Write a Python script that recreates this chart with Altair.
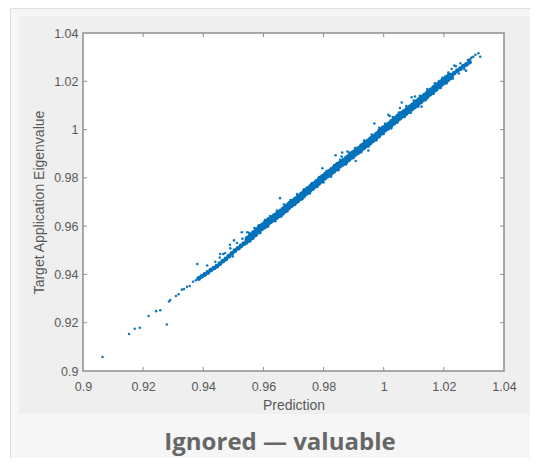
import altair as alt
import pandas as pd

axis_ticks = [0.9, 0.92, 0.94, 0.96, 0.98, 1.0, 1.02, 1.04]

core_pred = [0.955,0.956,0.957,0.958,0.959,0.960,0.961,0.962,0.963,0.964,0.965,0.966,0.967,0.968,0.969,0.970,0.971,0.972,0.973,0.974,0.975,0.976,0.977,0.978,0.979,0.980,0.981,0.982,0.983,0.984,0.985,0.986,0.987,0.988,0.989,0.990,0.991,0.992,0.993,0.994,0.995,0.996,0.997,0.998,0.999,1.000,1.001,1.002,1.003,1.004,1.005,1.006,1.007,1.008,1.009,1.010,1.011,1.012,1.013,1.014,1.015,1.016,1.017,1.018,1.019,1.020,1.021,1.022]
core_target = [0.9546,0.9558,0.9569,0.9581,0.9592,0.9601,0.9612,0.9622,0.9631,0.9640,0.9648,0.9658,0.9668,0.9679,0.9690,0.9699,0.9708,0.9719,0.9729,0.9740,0.9751,0.9760,0.9770,0.9781,0.9791,0.9802,0.9812,0.9821,0.9830,0.9841,0.9852,0.9860,0.9869,0.9879,0.9889,0.9900,0.9908,0.9918,0.9929,0.9938,0.9948,0.9958,0.9967,0.9978,0.9990,1.0001,1.0010,1.0019,1.0030,1.0041,1.0051,1.0061,1.0070,1.0079,1.0089,1.0099,1.0110,1.0119,1.0130,1.0139,1.0150,1.0160,1.0170,1.0181,1.0192,1.0200,1.0211,1.0220]

thin_pred = [0.9385,0.9395,0.9405,0.9415,0.9425,0.9435,0.9445,0.9455,0.9465,0.9475,0.9485,0.9495,0.9505,0.9515,0.9525,0.9535,0.9545,1.0225,1.0235,1.0245,1.0255,1.0265,1.0275,1.0285]
thin_target = [0.9383,0.9392,0.9400,0.9408,0.9418,0.9426,0.9434,0.9444,0.9455,0.9464,0.9475,0.9487,0.9498,0.9508,0.9518,0.9527,0.9539,1.0225,1.0234,1.0244,1.0252,1.0262,1.0270,1.0279]

dot_pred = [0.9065,0.9153,0.9172,0.9189,0.9218,0.9243,0.9257,0.9279,0.9286,0.9290,0.9309,0.9318,0.9329,0.9336,0.9346,0.9355,0.9366,0.9375,0.9380,0.9413,0.9489,0.9502,0.9528,0.9546,0.9655,0.9498,0.9456,0.9466,0.9796,0.9840,0.9862,0.9879,0.9860,0.9907,0.9949,0.9969,1.0015,1.0020,1.0060,1.0054,1.0093,1.0104,1.0126,1.0235,1.0226,1.0274,1.0298,1.0315,1.0321,1.0287,1.0292,1.0305,1.0280,
            0.9440,0.9455,0.9472,0.9490,0.9512,0.9530,0.9552,0.9570,0.9585,0.9605,0.9622,0.9645,0.9668,0.9690,0.9712,0.9735,0.9760,0.9785,0.9810,0.9835,0.9855,0.9885,0.9905,0.9935,0.9960,0.9985,1.0005,1.0030,1.0050,1.0075,1.0100,1.0120,1.0145,1.0170,1.0195,1.0215,1.0240,1.0255,
            0.9520,0.9545,0.9565,0.9590,0.9615,0.9640,0.9660,0.9680,0.9705,0.9730,0.9755,0.9780,0.9800,0.9825,0.9850,0.9875,0.9900,0.9925,0.9950,0.9975,1.0000,1.0025,1.0045,1.0070,1.0090,1.0115,1.0140,1.0165,1.0190,1.0210,1.0230,1.0250,1.0268]
dot_target = [0.9058,0.9153,0.9175,0.9179,0.9228,0.9248,0.9252,0.9193,0.9288,0.9294,0.9311,0.9318,0.9337,0.9340,0.9349,0.9352,0.9370,0.9376,0.9443,0.9437,0.9523,0.9541,0.9575,0.9575,0.9716,0.9474,0.9485,0.9485,0.9840,0.9894,0.9905,0.9909,0.9888,0.9870,0.9913,1.0025,1.0061,1.0056,1.0112,1.0089,1.0134,1.0137,1.0095,1.0265,1.0251,1.0244,1.0302,1.0316,1.0302,1.0291,1.0298,1.0310,1.0288,
              0.9452,0.9470,0.9488,0.9508,0.9530,0.9548,0.9573,0.9592,0.9604,0.9625,0.9642,0.9665,0.9690,0.9708,0.9733,0.9753,0.9778,0.9803,0.9828,0.9853,0.9875,0.9905,0.9925,0.9955,0.9980,1.0007,1.0025,1.0052,1.0071,1.0098,1.0120,1.0140,1.0168,1.0192,1.0215,1.0236,1.0262,1.0275,
              0.9505,0.9528,0.9548,0.9572,0.9598,0.9620,0.9640,0.9662,0.9688,0.9712,0.9735,0.9763,0.9781,0.9805,0.9832,0.9855,0.9882,0.9905,0.9930,0.9955,0.9982,1.0005,1.0028,1.0052,1.0070,1.0095,1.0122,1.0147,1.0172,1.0192,1.0212,1.0232,1.0250]

BLUE = "#0272bb"
GRID = "#8f8f8f"
W, H = 421, 338

core = pd.DataFrame({"p": core_pred, "t": core_target})
thin = pd.DataFrame({"p": thin_pred, "t": thin_target})
dots = pd.DataFrame({"p": dot_pred, "t": dot_target})
ticks = pd.DataFrame({"v": axis_ticks[1:-1]})
blank = pd.DataFrame({"a": [0]})

xs = alt.Scale(domain=[0.9, 1.04], nice=False, zero=False)
ys = alt.Scale(domain=[0.9, 1.04], nice=False, zero=False)
ax_common = dict(values=axis_ticks, format=".2~f", ticks=False, domain=False, grid=False, zindex=1,
                 labelFont="Liberation Sans", labelFontSize=12.5, labelColor="#595959",
                 titleFont="Liberation Sans", titleFontSize=14, titleColor="#595959", titleFontWeight="normal",
                 labelOverlap=False, labelFlush=False)
x_axis = alt.Axis(title="Prediction", labelPadding=9, titlePadding=6, **ax_common)
y_axis = alt.Axis(title="Target Application Eigenvalue", labelPadding=5, titlePadding=7, **ax_common)
X = alt.X("p:Q", scale=xs, axis=x_axis)
Y = alt.Y("t:Q", scale=ys, axis=y_axis)
XT = alt.X("v:Q", scale=xs, axis=x_axis)
YT = alt.Y("v:Q", scale=ys, axis=y_axis)


def box(x0, x1, y0, y1, fill, **kw):
    return alt.Chart(blank).mark_rect(fill=fill, **kw).encode(
        x=alt.value(x0), x2=alt.value(x1), y=alt.value(y0), y2=alt.value(y1))


outer_line = box(-72.5, 460, -24.5, 440, "#f6f6f6", stroke="#dedede", strokeWidth=1)
inner = box(-64, 460, -17, 381, "#efefef")
plot = box(0, W, 0, H, "#ffffff", stroke=GRID, strokeWidth=1.5)

bottom = alt.Chart(ticks).mark_rule(color=GRID, strokeWidth=1).encode(x=XT, y=alt.value(H), y2=alt.value(H - 4))
top = alt.Chart(ticks).mark_rule(color=GRID, strokeWidth=1).encode(x=XT, y=alt.value(0), y2=alt.value(4))
left = alt.Chart(ticks).mark_rule(color=GRID, strokeWidth=1).encode(y=YT, x=alt.value(0), x2=alt.value(4))
right = alt.Chart(ticks).mark_rule(color=GRID, strokeWidth=1).encode(y=YT, x=alt.value(W), x2=alt.value(W - 4))

core_layer = alt.Chart(core).mark_circle(size=56, color=BLUE, opacity=1).encode(x=X, y=Y)
thin_layer = alt.Chart(thin).mark_circle(size=24, color=BLUE, opacity=1).encode(x=X, y=Y)
dot_layer = alt.Chart(dots).mark_circle(size=6.5, color=BLUE, opacity=0.95).encode(x=X, y=Y)

caption = alt.Chart(pd.DataFrame({"s": ["Ignored \u2014 valuable"]})).mark_text(
    font="Open Sans", fontSize=24, fontWeight="bold", color="#666666", align="center", baseline="alphabetic"
).encode(text="s:N", x=alt.value(197), y=alt.value(417))

chart = alt.layer(outer_line, inner, plot, bottom, top, left, right, core_layer, thin_layer, dot_layer, caption).properties(
    width=W, height=H,
    padding={"left": 75, "top": 25, "right": 26, "bottom": 87},
    autosize=alt.AutoSizeParams(type="none"),
    background="#ffffff",
).configure_view(stroke=None)

chart.save("out.html", embed_options={"renderer": "svg", "actions": False})
